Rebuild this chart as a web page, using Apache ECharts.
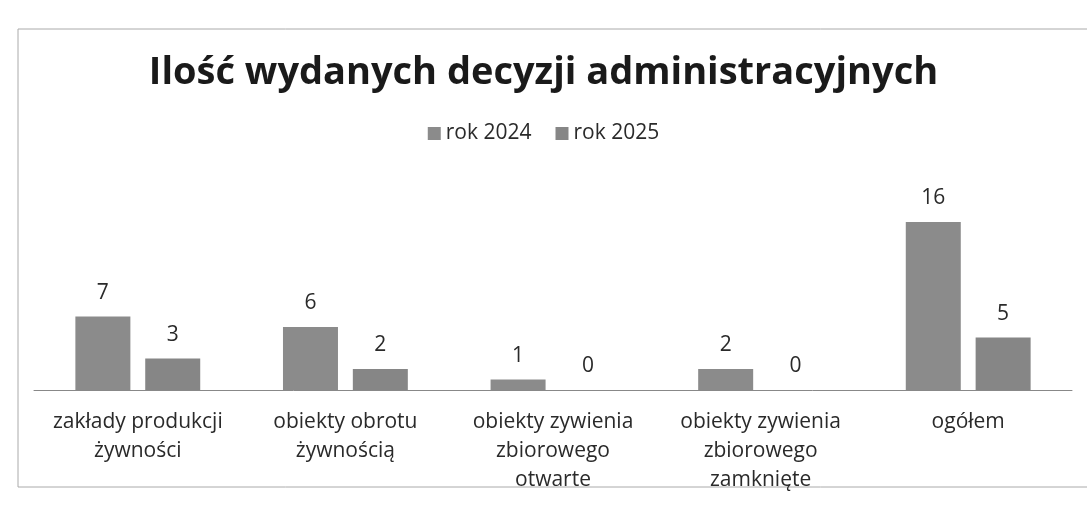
<!DOCTYPE html>
<html>
<head>
<meta charset="utf-8">
<script src="https://cdn.jsdelivr.net/npm/echarts@6/dist/echarts.min.js"></script>
<style>
  html, body { margin: 0; padding: 0; background: #fff; }
  #chart { width: 1087px; height: 506px; }
</style>
</head>
<body>
<div id="chart"></div>
<script>
var categories = [
  "zakłady produkcji\nżywności",
  "obiekty obrotu\nżywnością",
  "obiekty zywienia\nzbiorowego\notwarte",
  "obiekty zywienia\nzbiorowego\nzamknięte",
  "ogółem"
];
var rok2024 = [7, 6, 1, 2, 16];
var rok2025 = [3, 2, 0, 0, 5];

var font = "Open Sans";
var chart = echarts.init(document.getElementById("chart"));
chart.setOption({
  animation: false,
  backgroundColor: "#fff",
  title: {
    text: "Ilość wydanych decyzji administracyjnych",
    left: "center",
    top: 49,
    textStyle: { fontFamily: font, fontSize: 38, fontWeight: "bold", color: "#1a1a1a" }
  },
  legend: {
    top: 118,
    left: "center",
    itemWidth: 13,
    itemHeight: 13,
    itemGap: 24,
    icon: "rect",
    textStyle: { fontFamily: font, fontSize: 21, color: "#2a2a2a" },
    data: ["rok 2024", "rok 2025"]
  },
  graphic: [{
    type: "rect",
    shape: { x: 18, y: 29, width: 1080, height: 458 },
    style: { fill: "none", stroke: "#aaa", lineWidth: 1 },
    z: -1
  }],
  grid: { left: 34, right: 15, top: 201, bottom: 116, containLabel: false },
  xAxis: {
    type: "category",
    data: categories,
    axisLine: { lineStyle: { color: "#888", width: 1 } },
    axisTick: { show: false },
    axisLabel: {
      interval: 0,
      hideOverlap: false,
      fontFamily: font, fontSize: 21, color: "#2a2a2a", lineHeight: 29, margin: 18
    }
  },
  yAxis: {
    type: "value",
    min: 0,
    max: 18,
    interval: 2,
    show: false,
    splitLine: { show: false }
  },
  series: [
    {
      name: "rok 2024",
      type: "bar",
      data: rok2024,
      barWidth: 55,
      barGap: "27%",
      itemStyle: { color: "#8b8b8b" },
      label: { show: true, position: "top", distance: 13, fontFamily: font, fontSize: 21, color: "#2a2a2a" }
    },
    {
      name: "rok 2025",
      type: "bar",
      data: rok2025,
      barWidth: 55,
      itemStyle: { color: "#868686" },
      label: { show: true, position: "top", distance: 13, fontFamily: font, fontSize: 21, color: "#2a2a2a" }
    }
  ]
});
</script>
</body>
</html>
